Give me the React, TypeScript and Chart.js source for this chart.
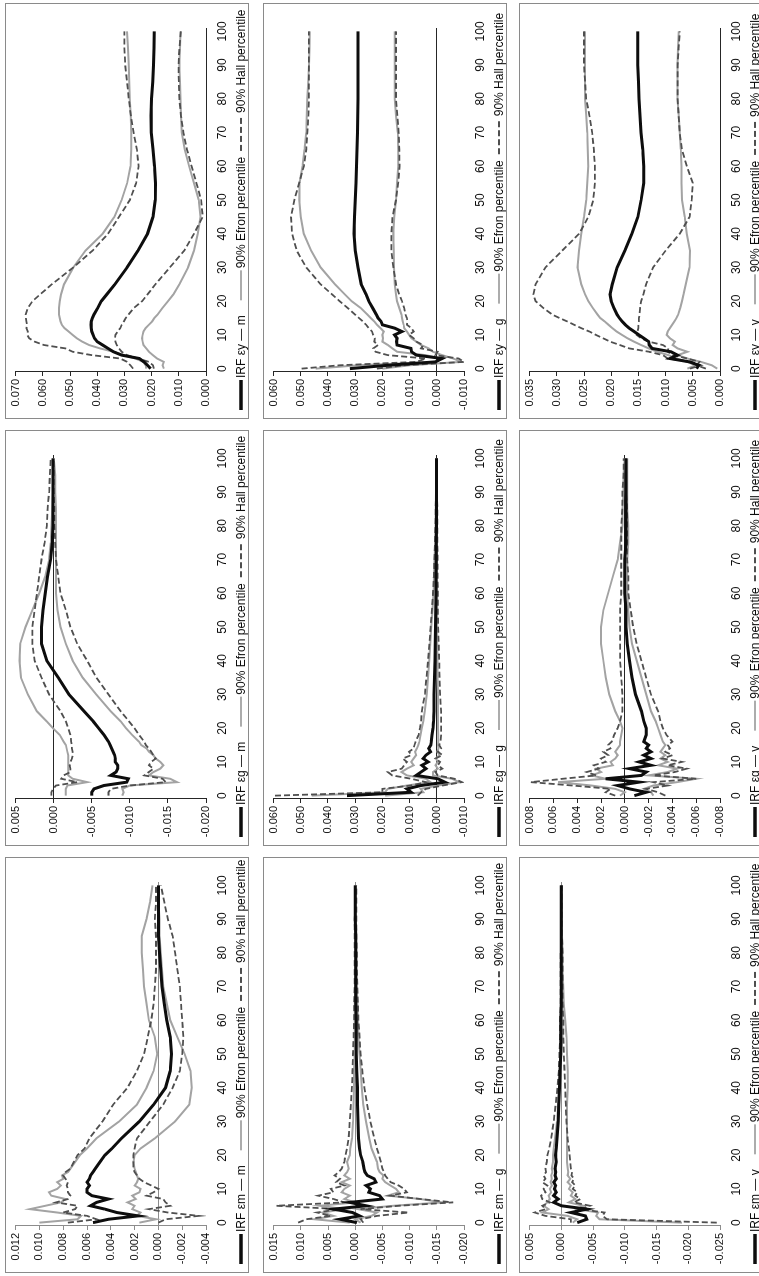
import React, { useEffect, useRef } from "react";
import { Chart, registerables } from "chart.js";

Chart.register(...registerables);

// ---------- periods (horizon) and tick labels ----------
const PERIODS = [0, 1, 2, 3, 4, 5, 6, 7, 8, 9, 10, 11, 12, 13, 14, 15, 16, 18, 20, 22, 25, 30, 35, 40, 45, 50, 55, 60, 65, 70, 75, 80, 85, 90, 95, 100];
const X_TICKS = [0, 10, 20, 30, 40, 50, 60, 70, 80, 90, 100];

const TICKS_MM = [-0.004, -0.002, 0, 0.002, 0.004, 0.006, 0.008, 0.01, 0.012];
const TICKS_MG = [-0.02, -0.015, -0.01, -0.005, 0, 0.005, 0.01, 0.015];
const TICKS_MV = [-0.025, -0.02, -0.015, -0.01, -0.005, 0, 0.005];
const TICKS_GM = [-0.02, -0.015, -0.01, -0.005, 0, 0.005];
const TICKS_GG = [-0.01, 0, 0.01, 0.02, 0.03, 0.04, 0.05, 0.06];
const TICKS_GV = [-0.008, -0.006, -0.004, -0.002, 0, 0.002, 0.004, 0.006, 0.008];
const TICKS_YM = [0, 0.01, 0.02, 0.03, 0.04, 0.05, 0.06, 0.07];
const TICKS_YG = [-0.01, 0, 0.01, 0.02, 0.03, 0.04, 0.05, 0.06];
const TICKS_YV = [0, 0.005, 0.01, 0.015, 0.02, 0.025, 0.03, 0.035];

// ---------- IRF eps_m -> m ----------
const MM_IRF = [0.0055, 0.0042, 0.0017, 0.0035, 0.0045, 0.0057, 0.0052, 0.0042, 0.0056, 0.006, 0.006, 0.0058, 0.006, 0.0058, 0.0057, 0.0055, 0.0053, 0.0049, 0.0045, 0.0039, 0.0031, 0.0016, 0.0004, -0.0006, -0.001, -0.0011, -0.001, -0.0007, -0.0005, -0.0003, -0.0002, -0.0001, 0, 0, 0, 0];
const MM_EFRON_HI = [0.01, 0.0068, 0.0065, 0.0085, 0.0108, 0.0095, 0.0082, 0.0078, 0.009, 0.0092, 0.0085, 0.0082, 0.0085, 0.008, 0.0081, 0.0076, 0.0074, 0.007, 0.0066, 0.006, 0.0052, 0.0033, 0.0018, 0.001, 0.0004, 0.0001, 0.0003, 0.0008, 0.001, 0.0012, 0.0013, 0.0014, 0.0014, 0.001, 0.0007, 0.0005];
const MM_EFRON_LO = [0.0016, 0.0002, 0.0018, 0.0015, 0.0022, 0.002, 0.0026, 0.0019, 0.0022, 0.0016, 0.0015, 0.002, 0.0018, 0.0017, 0.0018, 0.0019, 0.002, 0.0021, 0.002, 0.0015, 0.0003, -0.0014, -0.0026, -0.0028, -0.0027, -0.0022, -0.0016, -0.001, -0.0007, -0.0004, -0.0003, -0.0002, -0.0001, -0.0001, 0, 0];
const MM_HALL_HI = [0.0076, 0.0052, 0.006, 0.008, 0.007, 0.0068, 0.0086, 0.0076, 0.0074, 0.0076, 0.0076, 0.0077, 0.0076, 0.0078, 0.008, 0.0078, 0.0074, 0.0071, 0.0068, 0.0062, 0.0058, 0.0047, 0.0038, 0.0026, 0.0018, 0.0012, 0.0009, 0.0006, 0.0004, 0.0003, 0.0002, 0.0002, 0.0002, 0.0003, 0.0002, 0.0002];
const MM_HALL_LO = [0, -0.0006, -0.0034, -0.0008, 0.0008, -0.001, -0.0006, -0.0004, 0.001, 0.0004, 0, 0.0006, 0.0012, 0.0016, 0.0018, 0.002, 0.0021, 0.0021, 0.0021, 0.002, 0.0018, 0.0007, -0.0004, -0.0012, -0.0018, -0.002, -0.0021, -0.002, -0.0019, -0.0018, -0.0016, -0.0014, -0.0012, -0.0008, -0.0005, -0.0002];

// ---------- IRF eps_m -> g ----------
const MG_IRF = [-0.0003, 0.0028, -0.0008, 0.0005, 0.004, -0.002, 0.001, -0.005, -0.0045, -0.0025, -0.0028, -0.002, -0.0038, -0.0035, -0.0022, -0.0018, -0.0016, -0.0014, -0.001, -0.0008, -0.0006, -0.0005, -0.0004, -0.0004, -0.0003, -0.0002, -0.0002, -0.0002, -0.0001, -0.0001, -0.0001, -0.0001, -0.0001, 0, 0, 0];
const MG_EFRON_HI = [0.001, 0.0075, 0.004, 0.006, 0.002, 0.0065, 0, 0.002, 0.001, 0.0025, 0.002, 0.001, 0.0025, 0.001, 0.002, 0.0015, 0.0012, 0.0015, 0.001, 0.0009, 0.0006, 0.0004, 0.0003, 0.0002, 0.0002, 0.0001, 0.0001, 0.0001, 0.0001, 0, 0, 0, 0, 0, 0, 0];
const MG_EFRON_LO = [-0.001, 0, -0.003, -0.004, -0.0005, -0.007, -0.016, -0.012, -0.006, -0.008, -0.0075, -0.0065, -0.0055, -0.005, -0.0052, -0.0045, -0.0042, -0.004, -0.0035, -0.003, -0.0026, -0.002, -0.0015, -0.0012, -0.001, -0.0008, -0.0006, -0.0005, -0.0004, -0.0003, -0.0002, -0.0002, -0.0001, -0.0001, -0.0001, -0.0001];
const MG_HALL_HI = [0.0105, 0.009, 0.0045, 0.007, 0.003, 0.0145, 0.002, 0.004, 0.0068, 0.004, 0.0045, 0.002, 0.0035, 0.0028, 0.0038, 0.003, 0.0025, 0.002, 0.0018, 0.0015, 0.0012, 0.001, 0.0008, 0.0006, 0.0005, 0.0004, 0.0003, 0.0002, 0.0002, 0.0001, 0.0001, 0.0001, 0.0001, 0.0001, 0, 0];
const MG_HALL_LO = [-0.0015, -0.001, -0.004, -0.0098, -0.001, -0.008, -0.018, -0.012, -0.0065, -0.0095, -0.009, -0.008, -0.0065, -0.006, -0.0055, -0.0053, -0.005, -0.0047, -0.0044, -0.004, -0.0035, -0.0028, -0.0022, -0.0017, -0.0013, -0.001, -0.0008, -0.0006, -0.0005, -0.0004, -0.0003, -0.0003, -0.0002, -0.0002, -0.0002, -0.0002];

// ---------- IRF eps_m -> v ----------
const MV_IRF = [-0.0025, -0.004, -0.0038, -0.0015, -0.004, 0, 0.0012, 0.0005, 0.0012, 0.0008, 0.0011, 0.0009, 0.0012, 0.0008, 0.001, 0.0009, 0.001, 0.0008, 0.0009, 0.0008, 0.0007, 0.0005, 0.0004, 0.0003, 0.0002, 0.0001, 0.0001, 0.0001, 0, 0, 0, 0, 0, 0, 0, 0];
const MV_EFRON_HI = [-0.0018, -0.0025, -0.001, 0.003, 0.002, 0.0028, 0.0022, 0.0018, 0.002, 0.0016, 0.0018, 0.0015, 0.0017, 0.0015, 0.0016, 0.0014, 0.0015, 0.0013, 0.0013, 0.0012, 0.001, 0.0007, 0.0005, 0.0003, 0.0002, 0, -0.0002, -0.0002, -0.0001, -0.0001, -0.0001, -0.0001, 0, 0, 0, 0];
const MV_EFRON_LO = [-0.019, -0.006, -0.0055, -0.0058, -0.0025, -0.0035, -0.0012, -0.0022, -0.0015, -0.0018, -0.0012, -0.0015, -0.001, -0.0014, -0.001, -0.0011, -0.001, -0.0009, -0.0009, -0.0009, -0.0009, -0.0009, -0.0009, -0.001, -0.001, -0.0009, -0.0008, -0.0006, -0.0004, -0.0003, -0.0002, -0.0002, -0.0001, -0.0001, -0.0001, -0.0001];
const MV_HALL_HI = [-0.0015, -0.0015, 0.0025, 0.0042, 0.0025, 0.003, 0.0018, 0.003, 0.0032, 0.0025, 0.0028, 0.0022, 0.003, 0.0025, 0.0028, 0.0024, 0.0025, 0.0023, 0.0022, 0.0019, 0.0016, 0.0012, 0.0009, 0.0006, 0.0004, 0.0003, 0.0002, 0.0002, 0.0001, 0.0001, 0.0001, 0.0001, 0, 0, 0, 0];
const MV_HALL_LO = [-0.0245, -0.0072, -0.0065, -0.0068, -0.003, -0.0045, -0.002, -0.003, -0.0022, -0.0025, -0.0018, -0.0022, -0.0017, -0.002, -0.0016, -0.0017, -0.0015, -0.0014, -0.0013, -0.0012, -0.001, -0.0008, -0.0007, -0.0006, -0.0005, -0.0004, -0.0003, -0.0003, -0.0002, -0.0002, -0.0002, -0.0002, -0.0001, -0.0001, -0.0001, -0.0001];

// ---------- IRF eps_g -> m ----------
const GM_IRF = [-0.005, -0.005, -0.0053, -0.0066, -0.0096, -0.0098, -0.0075, -0.0082, -0.0084, -0.0084, -0.0081, -0.0081, -0.008, -0.0078, -0.0076, -0.0074, -0.0072, -0.0066, -0.0059, -0.0052, -0.004, -0.002, -0.0006, 0.0009, 0.0016, 0.0016, 0.0014, 0.0011, 0.0008, 0.0004, 0.0002, 0.0001, 0.0001, 0.0001, 0.0001, 0.0001];
const GM_EFRON_HI = [-0.0016, -0.0016, -0.0016, -0.0018, -0.0044, -0.0025, -0.0019, -0.0019, -0.0019, -0.0019, -0.0019, -0.0019, -0.0019, -0.0018, -0.0017, -0.0016, -0.0013, -0.0008, 0.0001, 0.0009, 0.0022, 0.0034, 0.0043, 0.0045, 0.0044, 0.0037, 0.0028, 0.0019, 0.0011, 0.0006, 0.0004, 0.0003, 0.0002, 0.0001, 0.0001, 0.0001];
const GM_EFRON_LO = [-0.009, -0.0092, -0.009, -0.01, -0.0162, -0.0153, -0.0125, -0.0131, -0.014, -0.0144, -0.014, -0.0134, -0.0131, -0.0125, -0.0122, -0.0115, -0.0112, -0.0103, -0.0095, -0.0088, -0.0075, -0.0056, -0.0038, -0.0025, -0.0016, -0.0009, -0.0005, -0.0003, -0.0003, -0.0003, -0.0003, -0.0003, -0.0003, -0.0002, -0.0002, 0];
const GM_HALL_HI = [0.0003, 0.0003, 0.0001, -0.0003, -0.0031, -0.001, -0.0013, -0.0022, -0.0022, -0.0021, -0.0022, -0.0024, -0.0025, -0.0025, -0.0024, -0.0024, -0.0023, -0.0022, -0.0019, -0.0016, -0.0009, 0.0006, 0.0016, 0.0025, 0.0028, 0.0028, 0.0025, 0.0022, 0.0019, 0.0016, 0.0012, 0.0009, 0.0008, 0.0006, 0.0005, 0.0004];
const GM_HALL_LO = [-0.0072, -0.0072, -0.0075, -0.01, -0.0147, -0.0143, -0.0119, -0.0125, -0.0131, -0.0125, -0.0128, -0.0134, -0.0131, -0.0128, -0.0125, -0.0121, -0.0119, -0.0112, -0.0106, -0.0099, -0.0088, -0.0072, -0.0056, -0.0044, -0.0031, -0.0022, -0.0016, -0.0009, -0.0006, -0.0003, -0.0002, -0.0001, -0.0001, 0, 0, 0];

// ---------- IRF eps_g -> g ----------
const GG_IRF = [0.033, 0.0094, 0.011, 0.0058, -0.003, -0.0004, 0.0076, 0.0058, 0.004, 0.0055, 0.0032, 0.005, 0.004, 0.0023, 0.003, 0.0022, 0.002, 0.0018, 0.0014, 0.0012, 0.001, 0.001, 0.0008, 0.0007, 0.0006, 0.0005, 0.0004, 0.0003, 0.0003, 0.0002, 0.0002, 0.0001, 0.0001, 0.0001, 0.0001, 0.0001];
const GG_EFRON_HI = [0.046, 0.019, 0.018, 0.011, 0.0023, 0.004, 0.011, 0.013, 0.011, 0.0085, 0.0094, 0.0085, 0.0076, 0.008, 0.0073, 0.0068, 0.0064, 0.006, 0.0055, 0.005, 0.0044, 0.0037, 0.0032, 0.0028, 0.0024, 0.002, 0.0016, 0.0012, 0.001, 0.0008, 0.0006, 0.0005, 0.0004, 0.0003, 0.0002, 0.0002];
const GG_EFRON_LO = [0.019, 0.005, 0.006, -0.0004, -0.0083, -0.0056, 0.0014, 0.0014, -0.0004, 0.0005, -0.0004, 0.0003, -0.0009, -0.0002, -0.0006, -0.0004, -0.0005, -0.0005, -0.0004, -0.0004, -0.0004, -0.0004, -0.0003, -0.0003, -0.0002, -0.0002, -0.0002, -0.0002, -0.0001, -0.0001, -0.0001, -0.0001, -0.0001, -0.0001, -0.0001, -0.0001];
const GG_HALL_HI = [0.0595, 0.02, 0.02, 0.0094, 0.004, 0.0094, 0.0164, 0.018, 0.0129, 0.012, 0.011, 0.0125, 0.0094, 0.0102, 0.0085, 0.0082, 0.0078, 0.0067, 0.0062, 0.0058, 0.0055, 0.0044, 0.0038, 0.0032, 0.0027, 0.0023, 0.0018, 0.0014, 0.0011, 0.0009, 0.0007, 0.0005, 0.0004, 0.0003, 0.0002, 0.0002];
const GG_HALL_LO = [0.007, 0.0058, 0.004, -0.0021, -0.0092, -0.0065, -0.0004, 0.0005, -0.002, -0.0004, -0.0012, 0.0005, -0.0021, -0.0004, -0.0016, -0.0009, -0.0014, -0.0016, -0.0016, -0.0016, -0.0016, -0.0012, -0.001, -0.0009, -0.0007, -0.0005, -0.0004, -0.0004, -0.0003, -0.0003, -0.0002, -0.0002, -0.0002, -0.0001, -0.0001, -0.0001];

// ---------- IRF eps_g -> v ----------
const GV_IRF = [-0.0008, -0.0018, -0.0004, 0.0006, -0.0012, 0.0016, -0.0014, -0.0018, -0.0004, -0.0022, -0.0012, -0.0022, -0.0016, -0.0022, -0.0018, -0.002, -0.0016, -0.0018, -0.0018, -0.0016, -0.0014, -0.0009, -0.0006, -0.0004, -0.0002, -0.0001, -0.0001, 0, 0, 0, -0.0001, -0.0001, -0.0001, -0.0001, -0.0001, -0.0001];
const GV_EFRON_HI = [0.0004, 0, 0.0008, 0.0028, 0.0056, 0.0016, 0.0028, 0.002, 0.0024, 0.001, 0.0012, 0.0008, 0.0006, 0.0008, 0.0006, 0.0004, 0.0004, 0.0003, 0.0002, 0.0004, 0.0008, 0.0013, 0.0016, 0.0018, 0.002, 0.002, 0.0018, 0.0014, 0.001, 0.0006, 0.0004, 0.0002, 0.0002, 0.0001, 0.0001, 0];
const GV_EFRON_LO = [-0.0024, -0.0022, -0.0016, -0.0024, -0.0044, -0.006, -0.002, -0.0036, -0.0044, -0.0028, -0.0036, -0.003, -0.0034, -0.003, -0.0032, -0.0034, -0.0032, -0.003, -0.0028, -0.0026, -0.0022, -0.0018, -0.0014, -0.001, -0.0006, -0.0004, -0.0003, -0.0002, -0.0002, -0.0002, -0.0003, -0.0003, -0.0002, -0.0002, -0.0002, -0.0002];
const GV_HALL_HI = [0.0008, 0.0016, 0.0012, 0.0044, 0.0079, 0.0052, 0.0024, 0.0032, 0.0022, 0.0026, 0.0016, 0.002, 0.0014, 0.0018, 0.0012, 0.0014, 0.0011, 0.0009, 0.0006, 0.0004, 0.0002, 0.0002, 0.0003, 0.0004, 0.0004, 0.0004, 0.0004, 0.0003, 0.0003, 0.0003, 0.0003, 0.0003, 0.0002, 0.0002, 0.0001, 0.0001];
const GV_HALL_LO = [-0.0034, -0.0028, -0.0018, -0.0036, -0.0024, -0.006, -0.0024, -0.0042, -0.0052, -0.0036, -0.0048, -0.0032, -0.004, -0.0034, -0.0038, -0.0036, -0.004, -0.0035, -0.0032, -0.003, -0.0028, -0.0022, -0.0018, -0.0014, -0.001, -0.0007, -0.0005, -0.0003, -0.0003, -0.0002, -0.0002, -0.0002, -0.0002, -0.0001, -0.0001, -0.0001];

// ---------- IRF eps_y -> m ----------
const YM_IRF = [0.0204, 0.0215, 0.0228, 0.0245, 0.031, 0.034, 0.036, 0.038, 0.04, 0.041, 0.0415, 0.042, 0.0422, 0.0423, 0.0422, 0.0418, 0.0412, 0.0398, 0.0385, 0.0365, 0.0335, 0.029, 0.025, 0.0215, 0.0195, 0.0187, 0.0186, 0.0189, 0.0195, 0.0201, 0.0202, 0.02, 0.0196, 0.0193, 0.0191, 0.019];
const YM_EFRON_HI = [0.022, 0.0222, 0.023, 0.026, 0.03, 0.034, 0.039, 0.043, 0.0455, 0.0475, 0.049, 0.0505, 0.052, 0.053, 0.0535, 0.0538, 0.054, 0.054, 0.0538, 0.0533, 0.0522, 0.0488, 0.0443, 0.038, 0.0337, 0.031, 0.029, 0.0278, 0.0275, 0.0275, 0.0277, 0.028, 0.0282, 0.0284, 0.0287, 0.029];
const YM_EFRON_LO = [0.0155, 0.016, 0.0155, 0.018, 0.0195, 0.021, 0.022, 0.023, 0.0233, 0.0235, 0.0233, 0.023, 0.0222, 0.021, 0.0198, 0.019, 0.0178, 0.016, 0.014, 0.012, 0.0098, 0.0066, 0.0044, 0.003, 0.002, 0.0027, 0.0044, 0.0062, 0.0078, 0.0089, 0.0092, 0.0094, 0.0096, 0.0098, 0.0096, 0.0094];
const YM_HALL_HI = [0.0268, 0.0278, 0.029, 0.0315, 0.042, 0.049, 0.0517, 0.0596, 0.063, 0.065, 0.0657, 0.0655, 0.066, 0.0658, 0.066, 0.0662, 0.0663, 0.0655, 0.0638, 0.061, 0.0567, 0.0488, 0.0417, 0.036, 0.032, 0.028, 0.0257, 0.0248, 0.0254, 0.0266, 0.0276, 0.0284, 0.029, 0.0297, 0.03, 0.03];
const YM_HALL_LO = [0.0192, 0.0195, 0.021, 0.025, 0.029, 0.031, 0.032, 0.0328, 0.0333, 0.0334, 0.0333, 0.0325, 0.0315, 0.031, 0.0302, 0.0295, 0.0285, 0.0265, 0.0235, 0.0215, 0.0186, 0.0133, 0.008, 0.0044, 0.0012, 0.0018, 0.0035, 0.0053, 0.007, 0.0083, 0.0092, 0.0098, 0.01, 0.0101, 0.0098, 0.0092];

// ---------- IRF eps_y -> g ----------
const YG_IRF = [0.032, 0.018, 0.0005, -0.002, 0.0075, 0.0093, 0.0095, 0.0146, 0.0148, 0.0146, 0.0155, 0.0128, 0.0155, 0.02, 0.0205, 0.0216, 0.0222, 0.0236, 0.025, 0.026, 0.0278, 0.029, 0.03, 0.0304, 0.0303, 0.03, 0.0297, 0.0295, 0.0293, 0.0292, 0.0291, 0.029, 0.029, 0.029, 0.029, 0.029];
const YG_EFRON_HI = [0.0445, 0.029, 0.0005, -0.0012, 0.004, 0.0146, 0.0163, 0.018, 0.02, 0.0198, 0.02, 0.0195, 0.0207, 0.022, 0.023, 0.0243, 0.0255, 0.028, 0.0313, 0.0338, 0.0374, 0.0427, 0.0462, 0.0489, 0.05, 0.0506, 0.0505, 0.0494, 0.0486, 0.048, 0.0478, 0.0476, 0.0473, 0.047, 0.0468, 0.0467];
const YG_EFRON_LO = [0.02, 0.01, -0.009, -0.006, -0.002, 0.0014, 0.003, 0.0058, 0.0075, 0.0093, 0.0102, 0.011, 0.012, 0.0122, 0.0125, 0.0128, 0.013, 0.0138, 0.0146, 0.015, 0.0155, 0.0157, 0.0158, 0.016, 0.0156, 0.015, 0.0146, 0.0142, 0.0142, 0.0144, 0.015, 0.0155, 0.0155, 0.0155, 0.0155, 0.0155];
const YG_HALL_HI = [0.0497, 0.0357, 0.0076, 0.004, 0.018, 0.0225, 0.0234, 0.0216, 0.023, 0.0228, 0.0234, 0.0238, 0.025, 0.026, 0.0272, 0.0286, 0.03, 0.0328, 0.0357, 0.0385, 0.0427, 0.048, 0.0515, 0.0532, 0.0536, 0.0524, 0.0506, 0.0489, 0.048, 0.0476, 0.0472, 0.047, 0.047, 0.047, 0.047, 0.047];
const YG_HALL_LO = [0.022, 0.012, -0.01, -0.008, 0.0005, -0.0003, 0.0058, 0.005, 0.0075, 0.0085, 0.0102, 0.0085, 0.0093, 0.011, 0.0108, 0.011, 0.0115, 0.012, 0.0128, 0.0138, 0.015, 0.016, 0.0167, 0.0167, 0.0163, 0.015, 0.0142, 0.0137, 0.0138, 0.014, 0.0145, 0.015, 0.015, 0.015, 0.015, 0.015];

// ---------- IRF eps_y -> v ----------
const YV_IRF = [0.0043, 0.0039, 0.0056, 0.0092, 0.0078, 0.009, 0.0125, 0.013, 0.0131, 0.014, 0.0149, 0.0158, 0.0167, 0.0174, 0.018, 0.0185, 0.0189, 0.0195, 0.02, 0.0202, 0.0198, 0.0189, 0.0175, 0.0162, 0.0151, 0.0145, 0.014, 0.014, 0.0142, 0.0145, 0.0147, 0.0149, 0.015, 0.0151, 0.0151, 0.0151];
const YV_EFRON_HI = [0.006, 0.0045, 0.006, 0.008, 0.0095, 0.0115, 0.0131, 0.0145, 0.0158, 0.017, 0.018, 0.019, 0.0198, 0.0205, 0.0212, 0.022, 0.0225, 0.0234, 0.0242, 0.0248, 0.0255, 0.0262, 0.0259, 0.0255, 0.025, 0.0246, 0.0244, 0.0242, 0.0243, 0.0244, 0.0246, 0.0248, 0.0248, 0.0248, 0.0248, 0.0248];
const YV_EFRON_LO = [0.0005, 0.0015, 0.0035, 0.006, 0.0078, 0.006, 0.0078, 0.0087, 0.0083, 0.0092, 0.0098, 0.0096, 0.0092, 0.0088, 0.0084, 0.008, 0.0077, 0.0073, 0.007, 0.0067, 0.0063, 0.0056, 0.0055, 0.0061, 0.0065, 0.007, 0.0071, 0.0071, 0.0072, 0.0074, 0.0076, 0.0078, 0.0078, 0.0078, 0.0077, 0.0076];
const YV_HALL_HI = [0.0055, 0.0035, 0.0052, 0.0096, 0.0105, 0.013, 0.0167, 0.0184, 0.0202, 0.0215, 0.0228, 0.024, 0.0255, 0.0268, 0.0281, 0.0295, 0.0308, 0.0325, 0.0339, 0.0343, 0.0339, 0.0321, 0.029, 0.0259, 0.0242, 0.0233, 0.023, 0.023, 0.0232, 0.0235, 0.024, 0.0246, 0.0248, 0.025, 0.025, 0.025];
const YV_HALL_LO = [0.0026, 0.0043, 0.0038, 0.006, 0.0087, 0.0096, 0.0095, 0.0105, 0.0131, 0.0145, 0.0153, 0.0152, 0.015, 0.015, 0.0149, 0.0149, 0.0148, 0.0147, 0.0145, 0.0141, 0.0136, 0.0123, 0.01, 0.0074, 0.0056, 0.0052, 0.005, 0.0061, 0.007, 0.0074, 0.0076, 0.0078, 0.0078, 0.0078, 0.0076, 0.0074];

// ---------- labels ----------
const SHOCKS = ["m", "g", "y"];
const RESPONSES = ["m", "g", "v"];
const EFRON_LABEL = "90% Efron percentile";
const HALL_LABEL = "90% Hall percentile";

// ---------- styles ----------
const FONT = '"Liberation Sans", Arial, Helvetica, sans-serif';
const NARROW_FONT = '"Liberation Sans Narrow", "Liberation Sans", Arial, sans-serif';
const IRF_COLOR = "#0d0d0d";
const EFRON_COLOR = "#a3a3a3";
const HALL_COLOR = "#4f4f4f";
const GRAY_AXIS = "#8c8c8c";
const DARK_AXIS = "#262626";

const PANEL_W = 416;
const PANEL_H = 244;
const PANEL_LEFT = [3, 430, 857];
const PANEL_TOP = [5, 263, 519];

type PanelDef = {
  shock: number;
  resp: number;
  ticks: number[];
  irf: number[];
  efronHi: number[];
  efronLo: number[];
  hallHi: number[];
  hallLo: number[];
};

const PANELS: PanelDef[] = [
  { shock: 0, resp: 0, ticks: TICKS_MM, irf: MM_IRF, efronHi: MM_EFRON_HI, efronLo: MM_EFRON_LO, hallHi: MM_HALL_HI, hallLo: MM_HALL_LO },
  { shock: 0, resp: 1, ticks: TICKS_MG, irf: MG_IRF, efronHi: MG_EFRON_HI, efronLo: MG_EFRON_LO, hallHi: MG_HALL_HI, hallLo: MG_HALL_LO },
  { shock: 0, resp: 2, ticks: TICKS_MV, irf: MV_IRF, efronHi: MV_EFRON_HI, efronLo: MV_EFRON_LO, hallHi: MV_HALL_HI, hallLo: MV_HALL_LO },
  { shock: 1, resp: 0, ticks: TICKS_GM, irf: GM_IRF, efronHi: GM_EFRON_HI, efronLo: GM_EFRON_LO, hallHi: GM_HALL_HI, hallLo: GM_HALL_LO },
  { shock: 1, resp: 1, ticks: TICKS_GG, irf: GG_IRF, efronHi: GG_EFRON_HI, efronLo: GG_EFRON_LO, hallHi: GG_HALL_HI, hallLo: GG_HALL_LO },
  { shock: 1, resp: 2, ticks: TICKS_GV, irf: GV_IRF, efronHi: GV_EFRON_HI, efronLo: GV_EFRON_LO, hallHi: GV_HALL_HI, hallLo: GV_HALL_LO },
  { shock: 2, resp: 0, ticks: TICKS_YM, irf: YM_IRF, efronHi: YM_EFRON_HI, efronLo: YM_EFRON_LO, hallHi: YM_HALL_HI, hallLo: YM_HALL_LO },
  { shock: 2, resp: 1, ticks: TICKS_YG, irf: YG_IRF, efronHi: YG_EFRON_HI, efronLo: YG_EFRON_LO, hallHi: YG_HALL_HI, hallLo: YG_HALL_LO },
  { shock: 2, resp: 2, ticks: TICKS_YV, irf: YV_IRF, efronHi: YV_EFRON_HI, efronLo: YV_EFRON_LO, hallHi: YV_HALL_HI, hallLo: YV_HALL_LO },
];

function Panel({ def }: { def: PanelDef }) {
  const ref = useRef<HTMLCanvasElement | null>(null);

  useEffect(() => {
    const canvas = ref.current;
    if (!canvas) return;
    const axisColor = def.shock === 0 ? GRAY_AXIS : DARK_AXIS;
    const irfLabel = "IRF \u03b5" + SHOCKS[def.shock] + " \u2014 " + RESPONSES[def.resp];

    const legendPlugin = {
      id: "panelLegend",
      afterDraw(chart: any) {
        const ctx = chart.ctx as CanvasRenderingContext2D;
        ctx.save();
        ctx.font = "12px " + FONT;
        ctx.textBaseline = "middle";
        ctx.fillStyle = "#0d0d0d";
        const y = 235;
        let x = 8;
        const items = [
          { text: irfLabel, color: IRF_COLOR, width: 3.5, dash: [] as number[], len: 30, gap: 15 },
          { text: EFRON_LABEL, color: EFRON_COLOR, width: 1.8, dash: [] as number[], len: 30, gap: 6 },
          { text: HALL_LABEL, color: HALL_COLOR, width: 1.8, dash: [6, 3], len: 36, gap: 0 },
        ];
        for (const it of items) {
          ctx.beginPath();
          ctx.setLineDash(it.dash);
          ctx.strokeStyle = it.color;
          ctx.lineWidth = it.width;
          ctx.moveTo(x, y);
          ctx.lineTo(x + it.len, y);
          ctx.stroke();
          x += it.len + 2;
          ctx.fillText(it.text, x, y + 0.5);
          x += ctx.measureText(it.text).width + it.gap;
        }
        ctx.restore();
      },
    };

    const mk = (vals: number[], color: string, width: number, dash: number[]) => ({
      data: PERIODS.map((p, i) => ({ x: p, y: vals[i] })),
      borderColor: color,
      backgroundColor: color,
      borderWidth: width,
      borderDash: dash,
      pointRadius: 0,
      fill: false,
      tension: 0,
    });

    const ticks = def.ticks;
    const chart = new Chart(canvas, {
      type: "line",
      data: {
        datasets: [
          mk(def.irf, IRF_COLOR, 3, []),
          mk(def.hallHi, HALL_COLOR, 1.8, [6, 3]),
          mk(def.hallLo, HALL_COLOR, 1.8, [6, 3]),
          mk(def.efronHi, EFRON_COLOR, 2, []),
          mk(def.efronLo, EFRON_COLOR, 2, []),
        ],
      },
      options: {
        animation: false,
        responsive: false,
        maintainAspectRatio: false,
        events: [],
        layout: { padding: { left: 0, right: 24, top: 9, bottom: 18 } },
        plugins: { legend: { display: false }, tooltip: { enabled: false }, title: { display: false } },
        scales: {
          x: {
            type: "linear",
            min: -1,
            max: 101,
            afterBuildTicks: (s: any) => {
              s.ticks = X_TICKS.map((v) => ({ value: v }));
            },
            afterFit: (s: any) => {
              s.height = 24;
            },
            ticks: {
              autoSkip: false,
              maxRotation: 0,
              padding: 9,
              color: "#0d0d0d",
              font: { family: FONT, size: 12 },
              callback: (v: any) => String(v),
            },
            grid: { display: false, drawTicks: false },
            border: { display: false },
          },
          y: {
            type: "linear",
            min: ticks[0],
            max: ticks[ticks.length - 1],
            afterBuildTicks: (s: any) => {
              s.ticks = ticks.map((v) => ({ value: v }));
            },
            afterFit: (s: any) => {
              s.width = 46;
            },
            ticks: {
              autoSkip: false,
              padding: 3,
              color: "#0d0d0d",
              font: { family: NARROW_FONT, size: 11 },
              callback: (v: any) => Number(v).toFixed(3),
            },
            grid: {
              drawTicks: true,
              tickLength: 4,
              tickColor: axisColor,
              lineWidth: 1,
              color: (c: any) => (c.tick && Math.abs(c.tick.value) < 1e-12 ? axisColor : "rgba(0,0,0,0)"),
            },
            border: { display: true, color: axisColor, width: 1 },
          },
        },
      },
      plugins: [legendPlugin],
    } as any);

    return () => chart.destroy();
  }, [def]);

  return (
    <div
      style={{
        position: "absolute",
        left: PANEL_LEFT[def.shock],
        top: PANEL_TOP[def.resp],
        width: PANEL_W,
        height: PANEL_H,
        border: "1px solid #8a8a8a",
        boxSizing: "border-box",
        background: "#ffffff",
      }}
    >
      <canvas ref={ref} width={PANEL_W - 2} height={PANEL_H - 2} style={{ display: "block", width: PANEL_W - 2, height: PANEL_H - 2 }} />
    </div>
  );
}

export default function App() {
  return (
    <div style={{ position: "absolute", left: 0, top: 0, width: 759, height: 1276, overflow: "hidden", background: "#ffffff" }}>
      <div
        style={{
          position: "absolute",
          left: 0,
          top: 0,
          width: 1276,
          height: 759,
          transformOrigin: "0 0",
          transform: "translate(0px, 1276px) rotate(-90deg)",
        }}
      >
        {PANELS.map((p) => (
          <Panel key={p.shock + "-" + p.resp} def={p} />
        ))}
      </div>
    </div>
  );
}
